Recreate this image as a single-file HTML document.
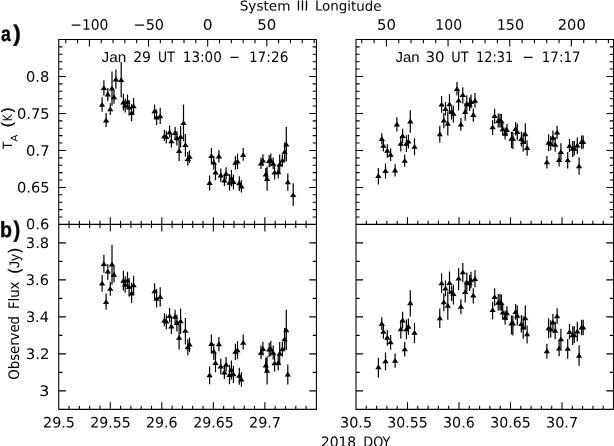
<!DOCTYPE html>
<html><head><meta charset="utf-8"><title>Figure</title>
<style>
html,body{margin:0;padding:0;background:#fff;}
svg{display:block;font-family:"DejaVu Sans", "Liberation Sans", sans-serif;font-size:14.5px;fill:#000;}
</style></head>
<body>
<svg width="614" height="446" viewBox="0 0 614 446">
<rect x="0" y="0" width="614" height="446" fill="#fff" stroke="none"/>
<path d="M58.21 39.50L316.94 39.50M58.75 224.40L316.40 224.40M58.21 409.40L316.94 409.40M58.75 39.50L58.75 409.40M316.40 39.50L316.40 409.40M355.46 39.50L614.04 39.50M356.00 224.40L613.50 224.40M355.46 409.40L614.04 409.40M356.00 39.50L356.00 409.40M613.50 39.50L613.50 409.40M58.75 46.90L62.45 46.90M316.40 46.90L312.70 46.90M356.00 46.90L359.70 46.90M613.50 46.90L609.80 46.90M58.75 54.29L62.45 54.29M316.40 54.29L312.70 54.29M356.00 54.29L359.70 54.29M613.50 54.29L609.80 54.29M58.75 61.69L62.45 61.69M316.40 61.69L312.70 61.69M356.00 61.69L359.70 61.69M613.50 61.69L609.80 61.69M58.75 69.08L62.45 69.08M316.40 69.08L312.70 69.08M356.00 69.08L359.70 69.08M613.50 69.08L609.80 69.08M58.75 76.48L65.85 76.48M316.40 76.48L309.30 76.48M356.00 76.48L363.10 76.48M613.50 76.48L606.40 76.48M58.75 83.88L62.45 83.88M316.40 83.88L312.70 83.88M356.00 83.88L359.70 83.88M613.50 83.88L609.80 83.88M58.75 91.27L62.45 91.27M316.40 91.27L312.70 91.27M356.00 91.27L359.70 91.27M613.50 91.27L609.80 91.27M58.75 98.67L62.45 98.67M316.40 98.67L312.70 98.67M356.00 98.67L359.70 98.67M613.50 98.67L609.80 98.67M58.75 106.06L62.45 106.06M316.40 106.06L312.70 106.06M356.00 106.06L359.70 106.06M613.50 106.06L609.80 106.06M58.75 113.46L65.85 113.46M316.40 113.46L309.30 113.46M356.00 113.46L363.10 113.46M613.50 113.46L606.40 113.46M58.75 120.86L62.45 120.86M316.40 120.86L312.70 120.86M356.00 120.86L359.70 120.86M613.50 120.86L609.80 120.86M58.75 128.25L62.45 128.25M316.40 128.25L312.70 128.25M356.00 128.25L359.70 128.25M613.50 128.25L609.80 128.25M58.75 135.65L62.45 135.65M316.40 135.65L312.70 135.65M356.00 135.65L359.70 135.65M613.50 135.65L609.80 135.65M58.75 143.04L62.45 143.04M316.40 143.04L312.70 143.04M356.00 143.04L359.70 143.04M613.50 143.04L609.80 143.04M58.75 150.44L65.85 150.44M316.40 150.44L309.30 150.44M356.00 150.44L363.10 150.44M613.50 150.44L606.40 150.44M58.75 157.84L62.45 157.84M316.40 157.84L312.70 157.84M356.00 157.84L359.70 157.84M613.50 157.84L609.80 157.84M58.75 165.23L62.45 165.23M316.40 165.23L312.70 165.23M356.00 165.23L359.70 165.23M613.50 165.23L609.80 165.23M58.75 172.63L62.45 172.63M316.40 172.63L312.70 172.63M356.00 172.63L359.70 172.63M613.50 172.63L609.80 172.63M58.75 180.02L62.45 180.02M316.40 180.02L312.70 180.02M356.00 180.02L359.70 180.02M613.50 180.02L609.80 180.02M58.75 187.42L65.85 187.42M316.40 187.42L309.30 187.42M356.00 187.42L363.10 187.42M613.50 187.42L606.40 187.42M58.75 194.82L62.45 194.82M316.40 194.82L312.70 194.82M356.00 194.82L359.70 194.82M613.50 194.82L609.80 194.82M58.75 202.21L62.45 202.21M316.40 202.21L312.70 202.21M356.00 202.21L359.70 202.21M613.50 202.21L609.80 202.21M58.75 209.61L62.45 209.61M316.40 209.61L312.70 209.61M356.00 209.61L359.70 209.61M613.50 209.61L609.80 209.61M58.75 217.00L62.45 217.00M316.40 217.00L312.70 217.00M356.00 217.00L359.70 217.00M613.50 217.00L609.80 217.00M58.75 242.90L65.85 242.90M316.40 242.90L309.30 242.90M356.00 242.90L363.10 242.90M613.50 242.90L606.40 242.90M58.75 261.40L62.45 261.40M316.40 261.40L312.70 261.40M356.00 261.40L359.70 261.40M613.50 261.40L609.80 261.40M58.75 279.90L65.85 279.90M316.40 279.90L309.30 279.90M356.00 279.90L363.10 279.90M613.50 279.90L606.40 279.90M58.75 298.40L62.45 298.40M316.40 298.40L312.70 298.40M356.00 298.40L359.70 298.40M613.50 298.40L609.80 298.40M58.75 316.90L65.85 316.90M316.40 316.90L309.30 316.90M356.00 316.90L363.10 316.90M613.50 316.90L606.40 316.90M58.75 335.40L62.45 335.40M316.40 335.40L312.70 335.40M356.00 335.40L359.70 335.40M613.50 335.40L609.80 335.40M58.75 353.90L65.85 353.90M316.40 353.90L309.30 353.90M356.00 353.90L363.10 353.90M613.50 353.90L606.40 353.90M58.75 372.40L62.45 372.40M316.40 372.40L312.70 372.40M356.00 372.40L359.70 372.40M613.50 372.40L609.80 372.40M58.75 390.90L65.85 390.90M316.40 390.90L309.30 390.90M356.00 390.90L363.10 390.90M613.50 390.90L606.40 390.90M69.06 220.70L69.06 228.10M69.06 409.40L69.06 405.70M79.36 220.70L79.36 228.10M79.36 409.40L79.36 405.70M89.67 220.70L89.67 228.10M89.67 409.40L89.67 405.70M99.97 220.70L99.97 228.10M99.97 409.40L99.97 405.70M110.28 217.30L110.28 231.50M110.28 409.40L110.28 402.30M120.59 220.70L120.59 228.10M120.59 409.40L120.59 405.70M130.89 220.70L130.89 228.10M130.89 409.40L130.89 405.70M141.20 220.70L141.20 228.10M141.20 409.40L141.20 405.70M151.50 220.70L151.50 228.10M151.50 409.40L151.50 405.70M161.81 217.30L161.81 231.50M161.81 409.40L161.81 402.30M172.12 220.70L172.12 228.10M172.12 409.40L172.12 405.70M182.42 220.70L182.42 228.10M182.42 409.40L182.42 405.70M192.73 220.70L192.73 228.10M192.73 409.40L192.73 405.70M203.03 220.70L203.03 228.10M203.03 409.40L203.03 405.70M213.34 217.30L213.34 231.50M213.34 409.40L213.34 402.30M223.65 220.70L223.65 228.10M223.65 409.40L223.65 405.70M233.95 220.70L233.95 228.10M233.95 409.40L233.95 405.70M244.26 220.70L244.26 228.10M244.26 409.40L244.26 405.70M254.56 220.70L254.56 228.10M254.56 409.40L254.56 405.70M264.87 217.30L264.87 231.50M264.87 409.40L264.87 402.30M275.18 220.70L275.18 228.10M275.18 409.40L275.18 405.70M285.48 220.70L285.48 228.10M285.48 409.40L285.48 405.70M295.79 220.70L295.79 228.10M295.79 409.40L295.79 405.70M306.09 220.70L306.09 228.10M306.09 409.40L306.09 405.70M366.30 220.70L366.30 224.40M366.30 409.40L366.30 405.70M376.60 220.70L376.60 224.40M376.60 409.40L376.60 405.70M386.90 220.70L386.90 224.40M386.90 409.40L386.90 405.70M397.20 220.70L397.20 224.40M397.20 409.40L397.20 405.70M407.50 217.30L407.50 224.40M407.50 409.40L407.50 402.30M417.80 220.70L417.80 224.40M417.80 409.40L417.80 405.70M428.10 220.70L428.10 224.40M428.10 409.40L428.10 405.70M438.40 220.70L438.40 224.40M438.40 409.40L438.40 405.70M448.70 220.70L448.70 224.40M448.70 409.40L448.70 405.70M459.00 217.30L459.00 224.40M459.00 409.40L459.00 402.30M469.30 220.70L469.30 224.40M469.30 409.40L469.30 405.70M479.60 220.70L479.60 224.40M479.60 409.40L479.60 405.70M489.90 220.70L489.90 224.40M489.90 409.40L489.90 405.70M500.20 220.70L500.20 224.40M500.20 409.40L500.20 405.70M510.50 217.30L510.50 224.40M510.50 409.40L510.50 402.30M520.80 220.70L520.80 224.40M520.80 409.40L520.80 405.70M531.10 220.70L531.10 224.40M531.10 409.40L531.10 405.70M541.40 220.70L541.40 224.40M541.40 409.40L541.40 405.70M551.70 220.70L551.70 224.40M551.70 409.40L551.70 405.70M562.00 217.30L562.00 224.40M562.00 409.40L562.00 402.30M572.30 220.70L572.30 224.40M572.30 409.40L572.30 405.70M582.60 220.70L582.60 224.40M582.60 409.40L582.60 405.70M592.90 220.70L592.90 224.40M592.90 409.40L592.90 405.70M603.20 220.70L603.20 224.40M603.20 409.40L603.20 405.70M65.75 39.50L65.75 43.20M77.57 39.50L77.57 43.20M89.40 39.50L89.40 46.60M101.23 39.50L101.23 43.20M113.05 39.50L113.05 43.20M124.88 39.50L124.88 43.20M136.71 39.50L136.71 43.20M148.54 39.50L148.54 46.60M160.36 39.50L160.36 43.20M172.19 39.50L172.19 43.20M184.02 39.50L184.02 43.20M195.84 39.50L195.84 43.20M207.67 39.50L207.67 46.60M219.50 39.50L219.50 43.20M231.32 39.50L231.32 43.20M243.15 39.50L243.15 43.20M254.98 39.50L254.98 43.20M266.81 39.50L266.81 46.60M278.63 39.50L278.63 43.20M290.46 39.50L290.46 43.20M302.29 39.50L302.29 43.20M314.11 39.50L314.11 43.20M361.73 39.50L361.73 43.20M374.07 39.50L374.07 43.20M386.40 39.50L386.40 46.60M398.73 39.50L398.73 43.20M411.07 39.50L411.07 43.20M423.40 39.50L423.40 43.20M435.73 39.50L435.73 43.20M448.06 39.50L448.06 46.60M460.40 39.50L460.40 43.20M472.73 39.50L472.73 43.20M485.06 39.50L485.06 43.20M497.40 39.50L497.40 43.20M509.73 39.50L509.73 46.60M522.06 39.50L522.06 43.20M534.40 39.50L534.40 43.20M546.73 39.50L546.73 43.20M559.06 39.50L559.06 43.20M571.39 39.50L571.39 46.60M583.73 39.50L583.73 43.20M596.06 39.50L596.06 43.20M608.39 39.50L608.39 43.20" stroke="#000" stroke-width="1.08" fill="none"/>
<path d="M102.10 97.30L102.10 111.70M103.90 80.20L103.90 95.40M106.10 113.10L106.10 127.00M107.80 88.00L107.80 101.30M110.30 103.30L110.30 115.10M112.00 71.60L112.00 105.70M114.00 90.00L114.00 103.80M115.90 69.40L115.90 88.70M121.20 62.00L121.20 97.60M123.40 93.80L123.40 110.60M125.20 98.40L125.20 112.50M127.50 94.60L127.50 108.80M129.10 100.00L129.10 115.60M131.60 104.00L131.60 121.30M133.60 98.00L133.60 113.60M154.60 104.40L154.60 118.20M156.60 109.50L156.60 125.10M160.20 107.80L160.20 124.10M164.40 129.90L164.40 141.00M166.30 131.00L166.30 143.60M169.60 125.40L169.60 137.60M171.40 134.00L171.40 147.60M175.10 126.90L175.10 138.50M176.90 131.30L176.90 145.40M179.10 140.00L179.10 160.90M180.60 126.10L180.60 147.60M183.50 104.40L183.50 141.30M185.40 133.90L185.40 156.50M187.80 152.00L187.80 165.70M189.50 150.60L189.50 163.10M209.60 175.40L209.60 190.50M211.40 148.10L211.40 164.00M213.80 155.90L213.80 169.70M215.50 163.70L215.50 180.30M218.90 150.20L218.90 162.40M220.80 168.50L220.80 182.00M224.40 174.00L224.40 186.00M226.10 167.30L226.10 179.50M229.50 174.00L229.50 190.50M231.40 170.10L231.40 186.40M233.40 174.60L233.40 189.30M235.40 155.90L235.40 169.70M237.50 153.80L237.50 168.90M239.30 176.30L239.30 190.90M241.40 180.30L241.40 192.50M243.20 148.10L243.20 160.80M261.00 157.50L261.00 169.10M262.90 154.20L262.90 166.00M265.80 167.90L265.80 180.00M267.10 166.50L267.10 190.70M269.20 155.00L269.20 167.20M270.80 153.60L270.80 166.50M273.20 157.50L273.20 169.30M274.60 165.00L274.60 179.60M278.20 165.50L278.20 178.50M279.70 154.50L279.70 173.50M282.40 154.40L282.40 166.80M284.60 142.50L284.60 161.30M286.30 126.90L286.30 161.50M287.80 173.60L287.80 190.70M293.20 183.30L293.20 206.10" stroke="#000" stroke-width="1.2" fill="none"/>
<path d="M98.95 106.70L102.10 101.90L105.25 106.70ZM100.75 90.10L103.90 85.30L107.05 90.10ZM102.95 122.40L106.10 117.60L109.25 122.40ZM104.65 96.40L107.80 91.60L110.95 96.40ZM107.15 111.20L110.30 106.40L113.45 111.20ZM108.85 90.50L112.00 85.70L115.15 90.50ZM110.85 99.20L114.00 94.40L117.15 99.20ZM112.75 81.40L115.90 76.60L119.05 81.40ZM118.05 82.10L121.20 77.30L124.35 82.10ZM120.25 104.40L123.40 99.60L126.55 104.40ZM122.05 107.80L125.20 103.00L128.35 107.80ZM124.35 104.10L127.50 99.30L130.65 104.10ZM125.95 109.60L129.10 104.80L132.25 109.60ZM128.45 115.10L131.60 110.30L134.75 115.10ZM130.45 108.20L133.60 103.40L136.75 108.20ZM151.45 113.20L154.60 108.40L157.75 113.20ZM153.45 119.60L156.60 114.80L159.75 119.60ZM157.05 118.20L160.20 113.40L163.35 118.20ZM161.25 138.20L164.40 133.40L167.55 138.20ZM163.15 139.10L166.30 134.30L169.45 139.10ZM166.45 134.30L169.60 129.50L172.75 134.30ZM168.25 143.20L171.40 138.40L174.55 143.20ZM171.95 135.00L175.10 130.20L178.25 135.00ZM173.75 140.20L176.90 135.40L180.05 140.20ZM175.95 152.90L179.10 148.10L182.25 152.90ZM177.45 138.90L180.60 134.10L183.75 138.90ZM180.35 125.00L183.50 120.20L186.65 125.00ZM182.25 147.00L185.40 142.20L188.55 147.00ZM184.65 161.00L187.80 156.20L190.95 161.00ZM186.35 158.70L189.50 153.90L192.65 158.70ZM206.45 184.90L209.60 180.10L212.75 184.90ZM208.25 158.10L211.40 153.30L214.55 158.10ZM210.65 164.60L213.80 159.80L216.95 164.60ZM212.35 174.40L215.50 169.60L218.65 174.40ZM215.75 158.40L218.90 153.60L222.05 158.40ZM217.65 177.40L220.80 172.60L223.95 177.40ZM221.25 182.40L224.40 177.60L227.55 182.40ZM222.95 175.80L226.10 171.00L229.25 175.80ZM226.35 184.70L229.50 179.90L232.65 184.70ZM228.25 180.40L231.40 175.60L234.55 180.40ZM230.25 183.90L233.40 179.10L236.55 183.90ZM232.25 164.80L235.40 160.00L238.55 164.80ZM234.35 163.60L237.50 158.80L240.65 163.60ZM236.15 185.20L239.30 180.40L242.45 185.20ZM238.25 188.40L241.40 183.60L244.55 188.40ZM240.05 157.10L243.20 152.30L246.35 157.10ZM257.85 165.60L261.00 160.80L264.15 165.60ZM259.75 162.50L262.90 157.70L266.05 162.50ZM262.65 176.40L265.80 171.60L268.95 176.40ZM263.95 181.00L267.10 176.20L270.25 181.00ZM266.05 162.90L269.20 158.10L272.35 162.90ZM267.65 162.40L270.80 157.60L273.95 162.40ZM270.05 165.70L273.20 160.90L276.35 165.70ZM271.45 174.60L274.60 169.80L277.75 174.60ZM275.05 174.30L278.20 169.50L281.35 174.30ZM276.55 166.40L279.70 161.60L282.85 166.40ZM279.25 162.60L282.40 157.80L285.55 162.60ZM281.45 154.10L284.60 149.30L287.75 154.10ZM283.15 146.40L286.30 141.60L289.45 146.40ZM284.65 184.20L287.80 179.40L290.95 184.20ZM290.05 197.10L293.20 192.30L296.35 197.10Z" fill="#000" stroke="none"/>
<path d="M378.40 167.90L378.40 184.60M381.80 133.30L381.80 144.30M383.40 139.00L383.40 151.60M385.50 163.40L385.50 178.50M387.30 144.30L387.30 157.70M390.60 148.40L390.60 161.00M395.10 164.20L395.10 176.40M396.90 117.20L396.90 131.50M400.80 136.00L400.80 151.60M402.60 128.70L402.60 143.00M404.70 154.40L404.70 166.70M406.40 135.30L406.40 152.00M408.40 134.50L408.40 148.40M410.30 110.30L410.30 132.70M414.50 138.20L414.50 155.30M439.80 125.80L439.80 142.50M441.60 95.90L441.60 112.70M443.80 113.10L443.80 128.30M445.50 102.00L445.50 115.50M447.80 111.40L447.80 135.50M449.50 94.30L449.50 113.50M451.60 106.50L451.60 119.40M453.40 105.70L453.40 122.40M457.00 82.10L457.00 95.50M458.60 91.30L458.60 110.40M460.90 118.00L460.90 130.70M462.80 87.20L462.80 103.40M465.20 103.00L465.20 120.80M466.80 95.30L466.80 111.50M469.60 97.40L469.60 111.00M471.00 94.50L471.00 108.60M473.30 108.60L473.30 121.70M475.00 93.00L475.00 107.80M492.60 120.20L492.60 135.00M494.60 108.70L494.60 123.70M498.20 113.60L498.20 127.60M499.90 113.60L499.90 127.60M501.40 114.00L501.40 127.80M502.70 123.00L502.70 135.00M505.10 127.50L505.10 139.50M506.90 124.00L506.90 135.50M511.50 131.80L511.50 148.00M512.90 131.80L512.90 148.90M515.60 122.00L515.60 135.40M517.30 123.40L517.30 140.30M521.40 131.40L521.40 146.40M523.20 132.60L523.20 151.70M525.30 123.20L525.30 143.50M527.10 140.30L527.10 155.80M546.90 156.00L546.90 168.60M548.60 134.20L548.60 151.20M550.70 136.00L550.70 150.50M552.90 130.60L552.90 144.40M555.20 137.00L555.20 151.80M557.10 125.70L557.10 139.10M559.10 152.80L559.10 166.60M560.90 143.20L560.90 160.00M567.70 151.90L567.70 168.60M569.50 139.10L569.50 152.10M572.70 141.10L572.70 157.00M574.30 141.10L574.30 155.60M577.30 137.50L577.30 154.00M579.10 157.20L579.10 174.70M581.60 135.40L581.60 148.70M583.20 135.40L583.20 148.70" stroke="#000" stroke-width="1.2" fill="none"/>
<path d="M375.25 178.00L378.40 173.20L381.55 178.00ZM378.65 141.00L381.80 136.20L384.95 141.00ZM380.25 147.70L383.40 142.90L386.55 147.70ZM382.35 172.90L385.50 168.10L388.65 172.90ZM384.15 152.80L387.30 148.00L390.45 152.80ZM387.45 156.70L390.60 151.90L393.75 156.70ZM391.95 172.40L395.10 167.60L398.25 172.40ZM393.75 126.40L396.90 121.60L400.05 126.40ZM397.65 145.70L400.80 140.90L403.95 145.70ZM399.45 138.10L402.60 133.30L405.75 138.10ZM401.55 162.70L404.70 157.90L407.85 162.70ZM403.25 145.70L406.40 140.90L409.55 145.70ZM405.25 143.40L408.40 138.60L411.55 143.40ZM407.15 123.40L410.30 118.60L413.45 123.40ZM411.35 148.70L414.50 143.90L417.65 148.70ZM436.65 136.30L439.80 131.50L442.95 136.30ZM438.45 106.50L441.60 101.70L444.75 106.50ZM440.65 122.60L443.80 117.80L446.95 122.60ZM442.35 111.00L445.50 106.20L448.65 111.00ZM444.65 125.70L447.80 120.90L450.95 125.70ZM446.35 106.30L449.50 101.50L452.65 106.30ZM448.45 113.90L451.60 109.10L454.75 113.90ZM450.25 115.70L453.40 110.90L456.55 115.70ZM453.85 91.00L457.00 86.20L460.15 91.00ZM455.45 102.50L458.60 97.70L461.75 102.50ZM457.75 126.50L460.90 121.70L464.05 126.50ZM459.65 97.10L462.80 92.30L465.95 97.10ZM462.05 113.90L465.20 109.10L468.35 113.90ZM463.65 105.80L466.80 101.00L469.95 105.80ZM466.45 106.40L469.60 101.60L472.75 106.40ZM467.85 103.90L471.00 99.10L474.15 103.90ZM470.15 116.90L473.30 112.10L476.45 116.90ZM471.85 102.80L475.00 98.00L478.15 102.80ZM489.45 129.30L492.60 124.50L495.75 129.30ZM491.45 118.10L494.60 113.30L497.75 118.10ZM495.05 123.10L498.20 118.30L501.35 123.10ZM496.75 123.10L499.90 118.30L503.05 123.10ZM498.25 123.30L501.40 118.50L504.55 123.30ZM499.55 131.30L502.70 126.50L505.85 131.30ZM501.95 135.80L505.10 131.00L508.25 135.80ZM503.75 132.10L506.90 127.30L510.05 132.10ZM508.35 140.70L511.50 135.90L514.65 140.70ZM509.75 140.70L512.90 135.90L516.05 140.70ZM512.45 130.90L515.60 126.10L518.75 130.90ZM514.15 134.10L517.30 129.30L520.45 134.10ZM518.25 141.10L521.40 136.30L524.55 141.10ZM520.05 144.10L523.20 139.30L526.35 144.10ZM522.15 136.20L525.30 131.40L528.45 136.20ZM523.95 149.90L527.10 145.10L530.25 149.90ZM543.75 164.30L546.90 159.50L550.05 164.30ZM545.45 144.80L548.60 140.00L551.75 144.80ZM547.55 145.90L550.70 141.10L553.85 145.90ZM549.75 139.90L552.90 135.10L556.05 139.90ZM552.05 146.80L555.20 142.00L558.35 146.80ZM553.95 134.60L557.10 129.80L560.25 134.60ZM555.95 162.10L559.10 157.30L562.25 162.10ZM557.75 154.10L560.90 149.30L564.05 154.10ZM564.55 162.30L567.70 157.50L570.85 162.30ZM566.35 148.00L569.50 143.20L572.65 148.00ZM569.55 150.70L572.70 145.90L575.85 150.70ZM571.15 150.70L574.30 145.90L577.45 150.70ZM574.15 147.60L577.30 142.80L580.45 147.60ZM575.95 168.20L579.10 163.40L582.25 168.20ZM578.45 144.10L581.60 139.30L584.75 144.10ZM580.05 144.10L583.20 139.30L586.35 144.10Z" fill="#000" stroke="none"/>
<path d="M102.10 274.93L102.10 291.84M103.90 254.85L103.90 272.70M106.10 293.48L106.10 309.80M107.80 264.01L107.80 279.63M110.30 281.97L110.30 295.83M112.00 244.76L112.00 284.79M114.00 266.36L114.00 282.56M123.40 270.82L123.40 290.54M125.20 276.22L125.20 292.77M127.50 271.76L127.50 288.43M129.10 278.10L129.10 296.41M131.60 282.80L131.60 303.11M133.60 275.75L133.60 294.07M154.60 283.27L154.60 299.47M156.60 289.25L156.60 307.57M160.20 287.26L160.20 306.39M164.40 313.20L164.40 326.23M166.30 314.49L166.30 329.29M169.60 307.92L169.60 322.24M171.40 318.02L171.40 333.98M175.10 309.68L175.10 323.30M176.90 314.85L176.90 331.40M179.10 325.06L179.10 349.60M180.60 308.74L180.60 333.98M185.40 317.90L185.40 344.43M187.80 339.15L187.80 355.23M189.50 337.50L189.50 352.18M209.60 366.62L209.60 384.35M211.40 334.57L211.40 353.24M213.80 343.73L213.80 359.93M215.50 352.88L215.50 372.37M218.90 337.03L218.90 351.36M220.80 358.52L220.80 374.37M224.40 364.98L224.40 379.06M226.10 357.11L226.10 371.43M229.50 364.98L229.50 384.35M231.40 360.40L231.40 379.53M233.40 365.68L233.40 382.94M235.40 343.73L235.40 359.93M237.50 341.26L237.50 358.99M239.30 367.68L239.30 384.82M241.40 372.37L241.40 386.69M243.20 334.57L243.20 349.48M261.00 345.61L261.00 359.22M262.90 341.73L262.90 355.58M265.80 357.81L265.80 372.02M267.10 356.17L267.10 384.58M269.20 342.67L269.20 356.99M270.80 341.03L270.80 356.17M273.20 345.61L273.20 359.46M274.60 354.41L274.60 371.55M278.20 355.00L278.20 370.26M279.70 342.08L279.70 364.39M282.40 341.97L282.40 356.52M284.60 328.00L284.60 350.07M286.30 309.68L286.30 350.30M287.80 364.51L287.80 384.58" stroke="#000" stroke-width="1.2" fill="none"/>
<path d="M98.95 285.55L102.10 280.75L105.25 285.55ZM100.75 266.06L103.90 261.26L107.05 266.06ZM102.95 303.98L106.10 299.18L109.25 303.98ZM104.65 273.46L107.80 268.66L110.95 273.46ZM107.15 290.83L110.30 286.03L113.45 290.83ZM108.85 266.53L112.00 261.73L115.15 266.53ZM110.85 276.74L114.00 271.94L117.15 276.74ZM120.25 282.85L123.40 278.05L126.55 282.85ZM122.05 286.84L125.20 282.04L128.35 286.84ZM124.35 282.50L127.50 277.70L130.65 282.50ZM125.95 288.95L129.10 284.15L132.25 288.95ZM128.45 295.41L131.60 290.61L134.75 295.41ZM130.45 287.31L133.60 282.51L136.75 287.31ZM151.45 293.18L154.60 288.38L157.75 293.18ZM153.45 300.69L156.60 295.89L159.75 300.69ZM157.05 299.05L160.20 294.25L163.35 299.05ZM161.25 322.53L164.40 317.73L167.55 322.53ZM163.15 323.59L166.30 318.79L169.45 323.59ZM166.45 317.95L169.60 313.15L172.75 317.95ZM168.25 328.40L171.40 323.60L174.55 328.40ZM171.95 318.77L175.10 313.97L178.25 318.77ZM173.75 324.88L176.90 320.08L180.05 324.88ZM175.95 339.79L179.10 334.99L182.25 339.79ZM177.45 323.35L180.60 318.55L183.75 323.35ZM182.25 332.86L185.40 328.06L188.55 332.86ZM184.65 349.30L187.80 344.50L190.95 349.30ZM186.35 346.60L189.50 341.80L192.65 346.60ZM206.45 377.35L209.60 372.56L212.75 377.35ZM208.25 345.89L211.40 341.09L214.55 345.89ZM210.65 353.52L213.80 348.72L216.95 353.52ZM212.35 365.03L215.50 360.23L218.65 365.03ZM215.75 346.24L218.90 341.44L222.05 346.24ZM217.65 368.55L220.80 363.75L223.95 368.55ZM221.25 374.42L224.40 369.62L227.55 374.42ZM222.95 366.67L226.10 361.87L229.25 366.67ZM226.35 377.12L229.50 372.32L232.65 377.12ZM228.25 372.07L231.40 367.27L234.55 372.07ZM230.25 376.18L233.40 371.38L236.55 376.18ZM232.25 353.76L235.40 348.96L238.55 353.76ZM234.35 352.35L237.50 347.55L240.65 352.35ZM236.15 377.71L239.30 372.91L242.45 377.71ZM238.25 381.46L241.40 376.66L244.55 381.46ZM240.05 344.72L243.20 339.92L246.35 344.72ZM257.85 354.70L261.00 349.90L264.15 354.70ZM259.75 351.06L262.90 346.26L266.05 351.06ZM262.65 367.38L265.80 362.58L268.95 367.38ZM263.95 372.78L267.10 367.98L270.25 372.78ZM266.05 351.53L269.20 346.73L272.35 351.53ZM267.65 350.94L270.80 346.14L273.95 350.94ZM270.05 354.81L273.20 350.01L276.35 354.81ZM271.45 365.26L274.60 360.46L277.75 365.26ZM275.05 364.91L278.20 360.11L281.35 364.91ZM276.55 355.64L279.70 350.84L282.85 355.64ZM279.25 351.17L282.40 346.37L285.55 351.17ZM281.45 341.20L284.60 336.40L287.75 341.20ZM283.15 332.16L286.30 327.36L289.45 332.16ZM284.65 376.53L287.80 371.73L290.95 376.53Z" fill="#000" stroke="none"/>
<path d="M378.40 357.81L378.40 377.42M381.80 317.19L381.80 330.11M383.40 323.89L383.40 338.68M385.50 352.53L385.50 370.26M387.30 330.11L387.30 345.84M390.60 334.92L390.60 349.71M395.10 353.47L395.10 367.79M400.80 320.36L400.80 338.68M402.60 311.79L402.60 328.58M404.70 341.97L404.70 356.41M406.40 319.54L406.40 339.15M408.40 318.60L408.40 334.92M410.30 290.19L410.30 316.49M414.50 322.95L414.50 343.02M439.80 308.39L439.80 328.00M441.60 273.29L441.60 293.01M443.80 293.48L443.80 311.32M445.50 280.45L445.50 296.30M447.80 291.48L447.80 319.78M449.50 271.41L449.50 293.95M451.60 285.73L451.60 300.88M453.40 284.79L453.40 304.40M458.60 267.89L458.60 290.31M460.90 299.23L460.90 314.14M462.80 263.07L462.80 282.09M465.20 281.62L465.20 302.52M466.80 272.58L466.80 291.60M469.60 275.05L469.60 291.01M471.00 271.64L471.00 288.20M473.30 288.20L473.30 303.58M475.00 269.88L475.00 287.26M492.60 301.81L492.60 319.19M494.60 288.31L494.60 305.92M498.20 294.07L498.20 310.50M499.90 294.07L499.90 310.50M501.40 294.54L501.40 310.74M502.70 305.10L502.70 319.19M505.10 310.38L505.10 324.47M506.90 306.28L506.90 319.78M511.50 315.43L511.50 334.45M512.90 315.43L512.90 335.51M515.60 303.93L515.60 319.66M517.30 305.57L517.30 325.41M521.40 314.96L521.40 332.57M523.20 316.37L523.20 338.80M525.30 305.34L525.30 329.17M527.10 325.41L527.10 343.61M546.90 343.84L546.90 358.64M548.60 318.25L548.60 338.21M550.70 320.36L550.70 337.39M552.90 314.02L552.90 330.23M555.20 321.54L555.20 338.91M557.10 308.27L557.10 324.00M559.10 340.09L559.10 356.29M560.90 328.82L560.90 348.54M567.70 339.03L567.70 358.64M569.50 324.00L569.50 339.27M572.70 326.35L572.70 345.02M574.30 326.35L574.30 343.37M577.30 322.12L577.30 341.50M579.10 345.25L579.10 365.80M581.60 319.66L581.60 335.27M583.20 319.66L583.20 335.27" stroke="#000" stroke-width="1.2" fill="none"/>
<path d="M375.25 369.25L378.40 364.45L381.55 369.25ZM378.65 325.82L381.80 321.02L384.95 325.82ZM380.25 333.68L383.40 328.88L386.55 333.68ZM382.35 363.27L385.50 358.47L388.65 363.27ZM384.15 339.67L387.30 334.87L390.45 339.67ZM387.45 344.25L390.60 339.45L393.75 344.25ZM391.95 362.68L395.10 357.88L398.25 362.68ZM397.65 331.33L400.80 326.53L403.95 331.33ZM399.45 322.41L402.60 317.61L405.75 322.41ZM401.55 351.29L404.70 346.49L407.85 351.29ZM403.25 331.33L406.40 326.53L409.55 331.33ZM405.25 328.63L408.40 323.83L411.55 328.63ZM407.15 305.15L410.30 300.35L413.45 305.15ZM411.35 334.86L414.50 330.06L417.65 334.86ZM436.65 320.30L439.80 315.50L442.95 320.30ZM438.45 285.31L441.60 280.51L444.75 285.31ZM440.65 304.21L443.80 299.41L446.95 304.21ZM442.35 290.60L445.50 285.80L448.65 290.60ZM444.65 307.85L447.80 303.05L450.95 307.85ZM446.35 285.08L449.50 280.28L452.65 285.08ZM448.45 294.00L451.60 289.20L454.75 294.00ZM450.25 296.11L453.40 291.31L456.55 296.11ZM455.45 280.62L458.60 275.82L461.75 280.62ZM457.75 308.79L460.90 303.99L464.05 308.79ZM459.65 274.28L462.80 269.48L465.95 274.28ZM462.05 294.00L465.20 289.20L468.35 294.00ZM463.65 284.49L466.80 279.69L469.95 284.49ZM466.45 285.20L469.60 280.40L472.75 285.20ZM467.85 282.26L471.00 277.46L474.15 282.26ZM470.15 297.52L473.30 292.72L476.45 297.52ZM471.85 280.97L475.00 276.17L478.15 280.97ZM489.45 312.08L492.60 307.28L495.75 312.08ZM491.45 298.93L494.60 294.13L497.75 298.93ZM495.05 304.80L498.20 300.00L501.35 304.80ZM496.75 304.80L499.90 300.00L503.05 304.80ZM498.25 305.04L501.40 300.24L504.55 305.04ZM499.55 314.43L502.70 309.63L505.85 314.43ZM501.95 319.71L505.10 314.91L508.25 319.71ZM503.75 315.37L506.90 310.57L510.05 315.37ZM508.35 325.46L511.50 320.66L514.65 325.46ZM509.75 325.46L512.90 320.66L516.05 325.46ZM512.45 313.96L515.60 309.16L518.75 313.96ZM514.15 317.72L517.30 312.92L520.45 317.72ZM518.25 325.93L521.40 321.13L524.55 325.93ZM520.05 329.46L523.20 324.66L526.35 329.46ZM522.15 320.18L525.30 315.38L528.45 320.18ZM523.95 336.26L527.10 331.47L530.25 336.26ZM543.75 353.17L546.90 348.37L550.05 353.17ZM545.45 330.28L548.60 325.48L551.75 330.28ZM547.55 331.57L550.70 326.77L553.85 331.57ZM549.75 324.52L552.90 319.73L556.05 324.52ZM552.05 332.63L555.20 327.83L558.35 332.63ZM553.95 318.30L557.10 313.50L560.25 318.30ZM555.95 350.59L559.10 345.79L562.25 350.59ZM557.75 341.20L560.90 336.40L564.05 341.20ZM564.55 350.82L567.70 346.02L570.85 350.82ZM566.35 334.03L569.50 329.23L572.65 334.03ZM569.55 337.20L572.70 332.40L575.85 337.20ZM571.15 337.20L574.30 332.40L577.45 337.20ZM574.15 333.56L577.30 328.76L580.45 333.56ZM575.95 357.75L579.10 352.95L582.25 357.75ZM578.45 329.46L581.60 324.66L584.75 329.46ZM580.05 329.46L583.20 324.66L586.35 329.46Z" fill="#000" stroke="none"/>
<text x="70.33" y="29.80" textLength="38.09" lengthAdjust="spacingAndGlyphs" transform="rotate(0.03 70.33 29.80)">−100</text>
<text x="133.57" y="29.80" textLength="30.49" lengthAdjust="spacingAndGlyphs" transform="rotate(0.03 133.57 29.80)">−50</text>
<text x="202.78" y="29.80" textLength="9.85" lengthAdjust="spacingAndGlyphs" transform="rotate(0.03 202.78 29.80)">0</text>
<text x="257.35" y="29.80" textLength="19.05" lengthAdjust="spacingAndGlyphs" transform="rotate(0.03 257.35 29.80)">50</text>
<text x="376.95" y="29.80" textLength="18.94" lengthAdjust="spacingAndGlyphs" transform="rotate(0.03 376.95 29.80)">50</text>
<text x="435.37" y="29.80" textLength="26.66" lengthAdjust="spacingAndGlyphs" transform="rotate(0.03 435.37 29.80)">100</text>
<text x="496.73" y="29.80" textLength="27.32" lengthAdjust="spacingAndGlyphs" transform="rotate(0.03 496.73 29.80)">150</text>
<text x="557.83" y="29.80" textLength="27.84" lengthAdjust="spacingAndGlyphs" transform="rotate(0.03 557.83 29.80)">200</text>
<text x="239.70" y="10.60" textLength="50.86" lengthAdjust="spacingAndGlyphs" transform="rotate(0.03 239.70 10.60)" font-size="13.6">System</text>
<text x="296.60" y="10.60" textLength="11.69" lengthAdjust="spacingAndGlyphs" transform="rotate(0.03 296.60 10.60)" font-size="13.6">III</text>
<text x="314.89" y="10.60" textLength="66.72" lengthAdjust="spacingAndGlyphs" transform="rotate(0.03 314.89 10.60)" font-size="13.6">Longitude</text>
<text x="101.56" y="62.10" textLength="24.74" lengthAdjust="spacingAndGlyphs" transform="rotate(0.03 101.56 62.10)" font-size="14.4" font-family='"Liberation Sans", "DejaVu Sans", sans-serif'>Jan</text>
<text x="133.17" y="62.10" textLength="17.81" lengthAdjust="spacingAndGlyphs" transform="rotate(0.03 133.17 62.10)">29</text>
<text x="158.12" y="62.10" textLength="16.64" lengthAdjust="spacingAndGlyphs" transform="rotate(0.03 158.12 62.10)">UT</text>
<text x="182.81" y="62.10" textLength="39.09" lengthAdjust="spacingAndGlyphs" transform="rotate(0.03 182.81 62.10)">13:00</text>
<text x="229.01" y="62.10" textLength="10.98" lengthAdjust="spacingAndGlyphs" transform="rotate(0.03 229.01 62.10)">−</text>
<text x="248.90" y="62.10" textLength="39.47" lengthAdjust="spacingAndGlyphs" transform="rotate(0.03 248.90 62.10)">17:26</text>
<text x="395.47" y="62.10" textLength="24.10" lengthAdjust="spacingAndGlyphs" transform="rotate(0.03 395.47 62.10)" font-size="14.4" font-family='"Liberation Sans", "DejaVu Sans", sans-serif'>Jan</text>
<text x="425.45" y="62.10" textLength="19.15" lengthAdjust="spacingAndGlyphs" transform="rotate(0.03 425.45 62.10)">30</text>
<text x="451.28" y="62.10" textLength="17.28" lengthAdjust="spacingAndGlyphs" transform="rotate(0.03 451.28 62.10)">UT</text>
<text x="475.98" y="62.10" textLength="37.21" lengthAdjust="spacingAndGlyphs" transform="rotate(0.03 475.98 62.10)">12:31</text>
<text x="522.21" y="62.10" textLength="11.78" lengthAdjust="spacingAndGlyphs" transform="rotate(0.03 522.21 62.10)">−</text>
<text x="541.82" y="62.10" textLength="38.72" lengthAdjust="spacingAndGlyphs" transform="rotate(0.03 541.82 62.10)">17:17</text>
<text x="26.04" y="81.75" textLength="23.26" lengthAdjust="spacingAndGlyphs" transform="rotate(0.03 26.04 81.75)">0.8</text>
<text x="16.93" y="118.65" textLength="32.65" lengthAdjust="spacingAndGlyphs" transform="rotate(0.03 16.93 118.65)">0.75</text>
<text x="26.02" y="155.65" textLength="23.54" lengthAdjust="spacingAndGlyphs" transform="rotate(0.03 26.02 155.65)">0.7</text>
<text x="16.93" y="192.55" textLength="32.65" lengthAdjust="spacingAndGlyphs" transform="rotate(0.03 16.93 192.55)">0.65</text>
<text x="26.04" y="229.25" textLength="23.18" lengthAdjust="spacingAndGlyphs" transform="rotate(0.03 26.04 229.25)">0.6</text>
<text x="25.89" y="247.95" textLength="23.21" lengthAdjust="spacingAndGlyphs" transform="rotate(0.03 25.89 247.95)">3.8</text>
<text x="25.89" y="284.95" textLength="23.12" lengthAdjust="spacingAndGlyphs" transform="rotate(0.03 25.89 284.95)">3.6</text>
<text x="25.90" y="322.05" textLength="23.01" lengthAdjust="spacingAndGlyphs" transform="rotate(0.03 25.90 322.05)">3.4</text>
<text x="25.86" y="358.95" textLength="23.73" lengthAdjust="spacingAndGlyphs" transform="rotate(0.03 25.86 358.95)">3.2</text>
<text x="39.19" y="395.95" textLength="10.07" lengthAdjust="spacingAndGlyphs" transform="rotate(0.03 39.19 395.95)">3</text>
<text x="43.00" y="427.50" textLength="32.01" lengthAdjust="spacingAndGlyphs" transform="rotate(0.03 43.00 427.50)">29.5</text>
<text x="90.26" y="427.50" textLength="40.47" lengthAdjust="spacingAndGlyphs" transform="rotate(0.03 90.26 427.50)">29.55</text>
<text x="146.01" y="427.50" textLength="31.64" lengthAdjust="spacingAndGlyphs" transform="rotate(0.03 146.01 427.50)">29.6</text>
<text x="193.26" y="427.50" textLength="40.47" lengthAdjust="spacingAndGlyphs" transform="rotate(0.03 193.26 427.50)">29.65</text>
<text x="249.00" y="427.50" textLength="31.98" lengthAdjust="spacingAndGlyphs" transform="rotate(0.03 249.00 427.50)">29.7</text>
<text x="340.05" y="427.50" textLength="32.05" lengthAdjust="spacingAndGlyphs" transform="rotate(0.03 340.05 427.50)">30.5</text>
<text x="387.32" y="427.50" textLength="40.51" lengthAdjust="spacingAndGlyphs" transform="rotate(0.03 387.32 427.50)">30.55</text>
<text x="443.07" y="427.50" textLength="31.68" lengthAdjust="spacingAndGlyphs" transform="rotate(0.03 443.07 427.50)">30.6</text>
<text x="490.32" y="427.50" textLength="40.51" lengthAdjust="spacingAndGlyphs" transform="rotate(0.03 490.32 427.50)">30.65</text>
<text x="546.05" y="427.50" textLength="32.02" lengthAdjust="spacingAndGlyphs" transform="rotate(0.03 546.05 427.50)">30.7</text>
<text x="320.78" y="447.10" textLength="35.47" lengthAdjust="spacingAndGlyphs" transform="rotate(0.03 320.78 447.10)">2018</text>
<text x="363.27" y="447.10" textLength="27.21" lengthAdjust="spacingAndGlyphs" transform="rotate(0.03 363.27 447.10)">DOY</text>
<text x="11.70" y="148.87" textLength="7.23" lengthAdjust="spacingAndGlyphs" transform="rotate(-90.03 11.70 148.87)" font-size="12.8">T</text>
<text x="17.40" y="141.48" textLength="6.76" lengthAdjust="spacingAndGlyphs" transform="rotate(-90.03 17.40 141.48)" font-size="9.4">A</text>
<text x="13.10" y="128.11" textLength="7.31" lengthAdjust="spacingAndGlyphs" transform="rotate(-90.03 13.10 128.11)" font-size="15.9">(</text>
<text x="11.70" y="121.23" textLength="6.91" lengthAdjust="spacingAndGlyphs" transform="rotate(-90.03 11.70 121.23)" font-size="12.8">K</text>
<text x="13.10" y="114.00" textLength="7.31" lengthAdjust="spacingAndGlyphs" transform="rotate(-90.03 13.10 114.00)" font-size="15.9">)</text>
<text x="19.20" y="379.64" textLength="63.64" lengthAdjust="spacingAndGlyphs" transform="rotate(-90.03 19.20 379.64)">Observed</text>
<text x="19.20" y="309.09" textLength="27.43" lengthAdjust="spacingAndGlyphs" transform="rotate(-90.03 19.20 309.09)">Flux</text>
<text x="20.50" y="274.20" textLength="6.79" lengthAdjust="spacingAndGlyphs" transform="rotate(-90.03 20.50 274.20)" font-size="16.9">(</text>
<text x="19.20" y="268.02" textLength="13.95" lengthAdjust="spacingAndGlyphs" transform="rotate(-90.03 19.20 268.02)" font-size="14.2" font-family='"Liberation Sans", "DejaVu Sans", sans-serif'>Jy</text>
<text x="20.50" y="254.23" textLength="6.96" lengthAdjust="spacingAndGlyphs" transform="rotate(-90.03 20.50 254.23)" font-size="16.9">)</text>
<text x="0.98" y="41.45" textLength="9.80" lengthAdjust="spacingAndGlyphs" transform="rotate(0.03 0.98 41.45)" font-size="21.6" font-family='"Liberation Sans", "DejaVu Sans", sans-serif' font-weight="bold" style="stroke:#000;stroke-width:0.35px">a</text>
<text x="13.28" y="40.90" textLength="7.55" lengthAdjust="spacingAndGlyphs" transform="rotate(0.03 13.28 40.90)" font-size="22.7" font-family='"Liberation Sans", "DejaVu Sans", sans-serif' font-weight="bold" style="stroke:#000;stroke-width:0.35px">)</text>
<text x="-0.10" y="237.10" textLength="12.00" lengthAdjust="spacingAndGlyphs" transform="rotate(0.03 -0.10 237.10)" font-size="22.0" font-family='"Liberation Sans", "DejaVu Sans", sans-serif' font-weight="bold" style="stroke:#000;stroke-width:0.35px">b</text>
<text x="13.58" y="236.60" textLength="6.73" lengthAdjust="spacingAndGlyphs" transform="rotate(0.03 13.58 236.60)" font-size="22.7" font-family='"Liberation Sans", "DejaVu Sans", sans-serif' font-weight="bold" style="stroke:#000;stroke-width:0.35px">)</text>
</svg>
</body></html>
